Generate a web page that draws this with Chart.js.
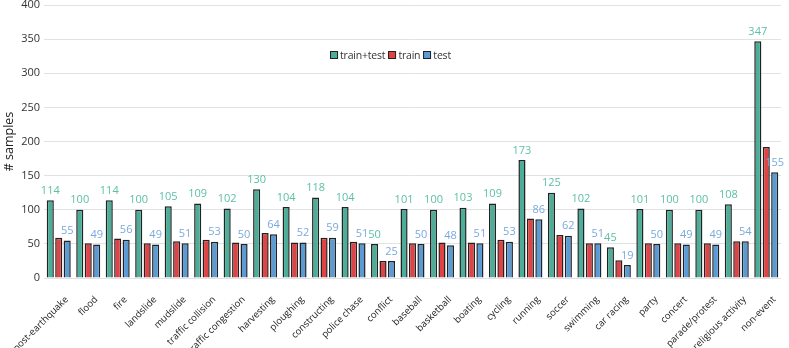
<!DOCTYPE html>
<html>
<head>
<meta charset="utf-8">
<script src="https://cdn.jsdelivr.net/npm/chart.js@4.4.1/dist/chart.umd.min.js"></script>
<style>
  html, body { margin: 0; padding: 0; background: #fff; }
  #wrap { width: 789px; height: 348px; position: relative; overflow: hidden; }
  #legend {
    position: absolute; left: 389px; top: 48px; transform: translateX(-50%);
    display: flex; align-items: center; white-space: nowrap;
    font: 10.5px 'Open Sans', 'Noto Sans', sans-serif; color: #333; letter-spacing: -0.2px;
  }
  #legend span.box {
    display: inline-block; width: 6px; height: 6px; border: 1.5px solid #222;
    margin: 0 2px 0 3px;
  }
</style>
</head>
<body>
<div id="wrap"><canvas id="chart"></canvas><div id="legend"></div></div>
<script>
// categories and counts
const categories = ['post-earthquake', 'flood', 'fire', 'landslide', 'mudslide', 'traffic collision',
  'traffic congestion', 'harvesting', 'ploughing', 'constructing', 'police chase', 'conflict',
  'baseball', 'basketball', 'boating', 'cycling', 'running', 'soccer', 'swimming', 'car racing',
  'party', 'concert', 'parade/protest', 'religious activity', 'non-event'];
const trainTest = [114, 100, 114, 100, 105, 109, 102, 130, 104, 118, 104, 50, 101, 100, 103, 109, 173, 125, 102, 45, 101, 100, 100, 108, 347];
const train = [59, 51, 58, 51, 54, 56, 52, 66, 52, 59, 53, 25, 51, 52, 52, 56, 87, 63, 51, 26, 51, 51, 51, 54, 192];
const test = [55, 49, 56, 49, 51, 53, 50, 64, 52, 59, 51, 25, 50, 48, 51, 53, 86, 62, 51, 19, 50, 49, 49, 54, 155];
const yTicks = [0, 50, 100, 150, 200, 250, 300, 350, 400];

const FONT = "'Open Sans', 'Noto Sans', sans-serif";

// value labels above train+test and test bars
const valueLabels = {
  id: 'valueLabels',
  afterDatasetsDraw(chart) {
    const ctx = chart.ctx;
    ctx.save();
    ctx.font = '11px ' + FONT;
    ctx.textAlign = 'center';
    ctx.textBaseline = 'bottom';
    [[0, '#5cbfa6'], [2, '#7aa9dd']].forEach(([i, color]) => {
      const meta = chart.getDatasetMeta(i);
      ctx.fillStyle = color;
      meta.data.forEach((bar, j) => {
        ctx.fillText(chart.data.datasets[i].data[j], bar.x, bar.y - 4);
      });
    });
    ctx.restore();
  }
};

const chart = new Chart(document.getElementById('chart'), {
  type: 'bar',
  data: {
    labels: categories,
    datasets: [
      { label: 'train+test', data: trainTest, backgroundColor: '#4cae98', borderColor: '#222', borderWidth: 1.5 },
      { label: 'train', data: train, backgroundColor: '#df4346', borderColor: '#222', borderWidth: 1.5 },
      { label: 'test', data: test, backgroundColor: '#5b9bd5', borderColor: '#222', borderWidth: 1.5 }
    ]
  },
  options: {
    responsive: true,
    maintainAspectRatio: false,
    animation: false,
    layout: { padding: { top: 5, right: 8, left: 0, bottom: 0 } },
    datasets: { bar: { categoryPercentage: 0.86, barPercentage: 0.84 } },
    plugins: {
      tooltip: { enabled: false },
      legend: { display: false }
    },
    scales: {
      x: {
        grid: { display: false },
        border: { display: false },
        afterFit(axis) {
          axis.height = 70;
          axis.paddingLeft = 0;
          axis.paddingRight = 0;
        },
        ticks: {
          minRotation: 45, maxRotation: 45, autoSkip: false, labelOffset: 8,
          color: '#222', font: { size: 9.5, family: FONT }, padding: 8
        }
      },
      y: {
        min: 0, max: 400,
        afterBuildTicks(axis) { axis.ticks = yTicks.map(v => ({ value: v })); },
        afterFit(axis) {
          axis.width = 44;
          axis.paddingTop = 0;
          axis.paddingBottom = 0;
        },
        grid: { color: '#e2e2e2', lineWidth: 1, drawTicks: false },
        border: { display: false },
        ticks: { color: '#333', font: { size: 11, family: FONT }, padding: 4 },
        title: { display: true, text: '# samples', color: '#222', font: { size: 12.5, family: FONT }, padding: 2 }
      }
    }
  },
  plugins: [valueLabels]
});

// legend built from the datasets
const legend = document.getElementById('legend');
chart.data.datasets.forEach(ds => {
  const box = document.createElement('span');
  box.className = 'box';
  box.style.background = ds.backgroundColor;
  legend.appendChild(box);
  legend.appendChild(document.createTextNode(ds.label));
});
</script>
</body>
</html>
